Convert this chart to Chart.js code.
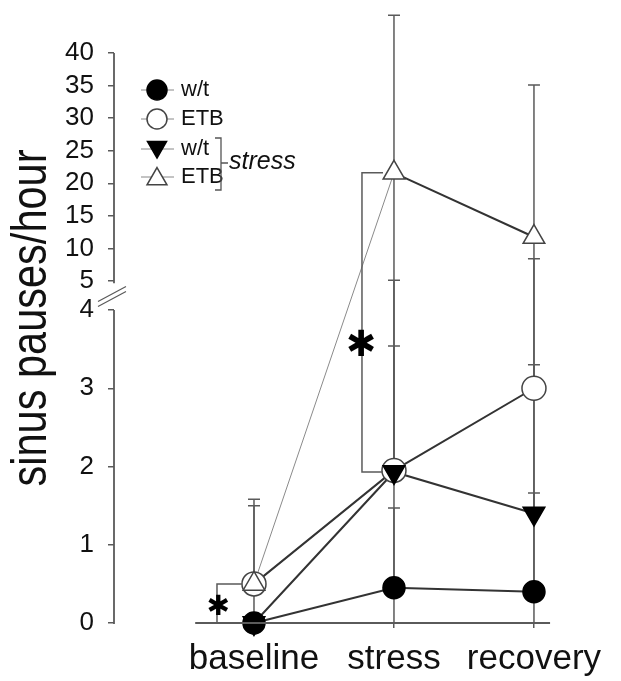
<!DOCTYPE html>
<html><head><meta charset="utf-8">
<script src="https://cdn.jsdelivr.net/npm/chart.js@4.4.1/dist/chart.umd.min.js"></script>
<style>html,body{margin:0;padding:0;background:#fff}#wrap{width:621px;height:681px;position:relative}</style>
</head><body><div id="wrap"><canvas id="c" width="621" height="681"></canvas></div>
<script>
// ---------- data ----------
const categories = ['baseline', 'stress', 'recovery'];
const yTickValues = [0, 1, 2, 3, 4, 5, 10, 15, 20, 25, 30, 35, 40];
const wt        = [0, 0.45, 0.40];
const etb       = [0.5, 1.95, 3.0];
const wtStress  = [0, 1.93, 1.40];
const etbStress = [0.5, 21.6, 11.75];
const wtErr        = [0, 1.02, 1.26];
const etbErr       = [1.0, 1.59, 5.4];
const wtStressErr  = [0, 3.17, 1.9];
const etbStressErr = [1.08, 24.2, 23.35];
const legendLabels = ['w/t', 'ETB', 'w/t', 'ETB'];
const stressLabel = 'stress';
const yTitle = 'sinus pauses/hour';
const sigMark = '\u2731';

// ---------- broken y scale (0-4 linear, break, 5-40 compressed) ----------
const LOW_PX = 313, GAP_PX = 29, HIGH_PX = 228, TOT_PX = LOW_PX + GAP_PX + HIGH_PX;
function frac(v) {
  if (v <= 4) return (v * LOW_PX / 4) / TOT_PX;
  if (v < 5) return (LOW_PX + (v - 4) * GAP_PX) / TOT_PX;
  return (LOW_PX + GAP_PX + (v - 5) * HIGH_PX / 35) / TOT_PX;
}
function unfrac(f) {
  const p = f * TOT_PX;
  if (p <= LOW_PX) return p * 4 / LOW_PX;
  if (p < LOW_PX + GAP_PX) return 4 + (p - LOW_PX) / GAP_PX;
  return 5 + (p - LOW_PX - GAP_PX) * 35 / HIGH_PX;
}
class BrokenScale extends Chart.LinearScale {
  static id = 'broken';
  buildTicks() { return yTickValues.map(v => ({ value: v })); }
  getPixelForValue(value) {
    if (value === null || value === undefined || isNaN(value)) return NaN;
    return this.getPixelForDecimal(frac(value));
  }
  getValueForPixel(pixel) { return unfrac(this.getDecimalForPixel(pixel)); }
}
Chart.register(BrokenScale);

const toXY = arr => arr.map((v, i) => ({ x: i, y: v }));
const LINE = '#333333', AXIS = '#5a5a5a', MARK = '#444444';

const series = [
  { vals: wtErr,        mean: wt,        sym: false },
  { vals: etbErr,       mean: etb,       sym: false },
  { vals: wtStressErr,  mean: wtStress,  sym: false },
  { vals: etbStressErr, mean: etbStress, sym: true }
];

// error bars, drawn before markers
const errorBarPlugin = {
  id: 'errbars',
  beforeDatasetDraw(chart, args) {
    const ds = chart.data.datasets[args.index];
    if (!ds.errStart) return;
    const ctx = chart.ctx, xs = chart.scales.x, ys = chart.scales.y;
    ctx.save();
    ctx.strokeStyle = AXIS; ctx.lineWidth = 1.5;
    series.forEach(s => {
      s.mean.forEach((m, j) => {
        const e = s.vals[j];
        if (!e) return;
        const x = xs.getPixelForValue(j);
        const yt = ys.getPixelForValue(m + e);
        const yb = ys.getPixelForValue(s.sym ? Math.max(0, m - e) : m);
        ctx.beginPath(); ctx.moveTo(x, yb); ctx.lineTo(x, yt);
        ctx.moveTo(x - 6, yt); ctx.lineTo(x + 6, yt); ctx.stroke();
      });
    });
    ctx.restore();
  }
};

function drawMarker(ctx, style, x, y, r, fill, stroke) {
  ctx.beginPath();
  if (style === 'circle') ctx.arc(x, y, r, 0, Math.PI * 2);
  else {
    const dir = style === 'down' ? -1 : 1;
    for (let k = 0; k < 3; k++) {
      const a = k * 2 * Math.PI / 3;
      const px = x + Math.sin(a) * r, py = y - dir * Math.cos(a) * r;
      k ? ctx.lineTo(px, py) : ctx.moveTo(px, py);
    }
    ctx.closePath();
  }
  ctx.fillStyle = fill; ctx.fill();
  ctx.lineWidth = 1.5; ctx.strokeStyle = stroke; ctx.stroke();
}

// significance mark sized by its ink box, centred on (x, y)
function drawSig(ctx, x, y, inkW) {
  ctx.save();
  const fam = '"DejaVu Sans", sans-serif';
  ctx.font = '100px ' + fam;
  let m = ctx.measureText(sigMark);
  const w100 = m.actualBoundingBoxLeft + m.actualBoundingBoxRight;
  const size = 100 * inkW / w100;
  ctx.font = size + 'px ' + fam;
  m = ctx.measureText(sigMark);
  ctx.fillStyle = '#000';
  ctx.textAlign = 'left'; ctx.textBaseline = 'alphabetic';
  const left = x - (m.actualBoundingBoxRight - m.actualBoundingBoxLeft) / 2;
  const base = y + (m.actualBoundingBoxAscent - m.actualBoundingBoxDescent) / 2;
  ctx.fillText(sigMark, left, base);
  ctx.restore();
}

const decorPlugin = {
  id: 'decor',
  afterDraw(chart) {
    const ctx = chart.ctx, xs = chart.scales.x, ys = chart.scales.y;
    const ax = chart.chartArea.left;
    ctx.save();
    ctx.strokeStyle = AXIS; ctx.lineWidth = 1.8; ctx.lineCap = 'butt';
    // y axis (broken)
    ctx.beginPath();
    ctx.moveTo(ax, ys.getPixelForValue(0) + 1); ctx.lineTo(ax, ys.getPixelForValue(4));
    ctx.moveTo(ax, ys.getPixelForValue(4.92)); ctx.lineTo(ax, ys.getPixelForValue(40));
    ctx.stroke();
    // break marks
    const yb = ys.getPixelForValue(4.5);
    ctx.lineWidth = 1.2;
    ctx.beginPath();
    ctx.moveTo(ax - 16, yb + 6); ctx.lineTo(ax + 12, yb - 9);
    ctx.moveTo(ax - 16, yb + 11); ctx.lineTo(ax + 12, yb - 4);
    ctx.stroke();
    // x axis
    ctx.lineWidth = 1.8;
    const y0 = ys.getPixelForValue(0);
    ctx.beginPath();
    ctx.moveTo(xs.getPixelForValue(-0.42), y0); ctx.lineTo(xs.getPixelForValue(2.115), y0);
    ctx.stroke();

    // significance brackets
    ctx.lineWidth = 1.5; ctx.strokeStyle = AXIS;
    const xb = xs.getPixelForValue(0), xsx = xs.getPixelForValue(1);
    const yHalf = ys.getPixelForValue(etb[0]);
    ctx.beginPath();
    ctx.moveTo(xb - 12, yHalf); ctx.lineTo(xb - 37, yHalf); ctx.lineTo(xb - 37, y0);
    ctx.stroke();
    const yTop = ys.getPixelForValue(etbStress[1]), yBot = ys.getPixelForValue(wtStress[1]);
    ctx.beginPath();
    ctx.moveTo(xsx - 11, yTop); ctx.lineTo(xsx - 32, yTop); ctx.lineTo(xsx - 32, yBot); ctx.lineTo(xsx - 11, yBot);
    ctx.stroke();
    drawSig(ctx, xb - 36, ys.getPixelForValue(0.24), 20);
    drawSig(ctx, xsx - 33, ys.getPixelForValue(3.58), 26);

    // y title
    ctx.save();
    ctx.font = '50px "Liberation Sans Narrow", "Arial Narrow", "Liberation Sans", sans-serif';
    ctx.fillStyle = '#111';
    const w = ctx.measureText(yTitle).width;
    ctx.translate(46, 318);
    ctx.rotate(-Math.PI / 2);
    ctx.scale(337 / w, 1);
    ctx.textAlign = 'center'; ctx.textBaseline = 'alphabetic';
    ctx.fillText(yTitle, 0, 0);
    ctx.restore();

    // legend
    const rows = [90, 119, 149, 177];
    const styles = [['circle', '#000', '#000', 10], ['circle', '#fff', MARK, 10], ['down', '#000', '#000', 11], ['up', '#fff', MARK, 11.5]];
    const lx = 157;
    rows.forEach((ry, i) => {
      ctx.strokeStyle = '#888'; ctx.lineWidth = 1;
      ctx.beginPath(); ctx.moveTo(lx - 16, ry); ctx.lineTo(lx + 17, ry); ctx.stroke();
      const s = styles[i];
      drawMarker(ctx, s[0], lx, s[0] === 'down' ? ry - 2 : (s[0] === 'up' ? ry + 2 : ry), s[3], s[1], s[2]);
      ctx.font = '22px "Liberation Sans", Arial, sans-serif';
      ctx.fillStyle = '#111'; ctx.textAlign = 'left'; ctx.textBaseline = 'middle';
      ctx.fillText(legendLabels[i], lx + 24, ry);
    });
    // stress bracket in legend
    ctx.strokeStyle = '#555'; ctx.lineWidth = 1.3;
    ctx.beginPath();
    ctx.moveTo(215, 138); ctx.lineTo(221, 138); ctx.lineTo(221, 190); ctx.lineTo(215, 190);
    ctx.moveTo(221, 163); ctx.lineTo(228, 163);
    ctx.stroke();
    ctx.font = 'italic 25px "Liberation Sans", Arial, sans-serif';
    ctx.fillStyle = '#111'; ctx.textAlign = 'left'; ctx.textBaseline = 'middle';
    ctx.fillText(stressLabel, 229, 162);
    ctx.restore();
  }
};

const lineDs = (arr, extra) => Object.assign({
  data: toXY(arr), borderColor: LINE, borderWidth: 2, pointRadius: 0, order: 10, clip: false, fill: false
}, extra || {});
const ptDs = (arr, style, rot, r, bg, bc, order, extra) => Object.assign({
  data: toXY(arr), showLine: false, pointStyle: style, rotation: rot, pointRadius: r,
  pointBackgroundColor: bg, pointBorderColor: bc, pointBorderWidth: 1.5, order: order, clip: false
}, extra || {});

new Chart(document.getElementById('c'), {
  type: 'line',
  data: {
    datasets: [
      lineDs(wt), lineDs(etb), lineDs(wtStress),
      lineDs(etbStress, { segment: {
        borderColor: c => c.p0DataIndex === 0 ? '#8a8a8a' : LINE,
        borderWidth: c => c.p0DataIndex === 0 ? 1 : 2 } }),
      ptDs(etb, 'circle', 0, 12, '#fff', MARK, 5, { errStart: true }),
      ptDs(etbStress, 'triangle', 0, 12.5, '#fff', MARK, 4),
      ptDs(wtStress, 'triangle', 180, 12.5, '#000', '#000', 3),
      ptDs(wt, 'circle', 0, 11, '#000', '#000', 2)
    ]
  },
  options: {
    responsive: false, animation: false, events: [],
    layout: { padding: { top: 53, right: 61, bottom: 0, left: 0 } },
    plugins: { legend: { display: false }, tooltip: { enabled: false } },
    scales: {
      x: {
        type: 'linear', min: -1, max: 2.186,
        afterBuildTicks: s => { s.ticks = categories.map((c, i) => ({ value: i })); },
        afterFit: s => { s.height = 58; },
        border: { display: false },
        grid: { drawOnChartArea: false, drawTicks: true, tickLength: 5, color: AXIS, lineWidth: 1.5 },
        ticks: { callback: v => categories[v], autoSkip: false, maxRotation: 0, padding: 10,
          color: '#111', font: { family: '"Liberation Sans", Arial, sans-serif', size: 35 } }
      },
      y: {
        type: 'broken', min: 0, max: 40,
        afterFit: s => { s.width = 114; },
        border: { display: false },
        grid: { drawOnChartArea: false, drawTicks: true, tickLength: 6, color: AXIS, lineWidth: 1.5 },
        ticks: { callback: v => String(v), autoSkip: false, padding: 14,
          color: '#111', font: { family: '"Liberation Sans", Arial, sans-serif', size: 26 } }
      }
    }
  },
  plugins: [errorBarPlugin, decorPlugin]
});
</script></body></html>
